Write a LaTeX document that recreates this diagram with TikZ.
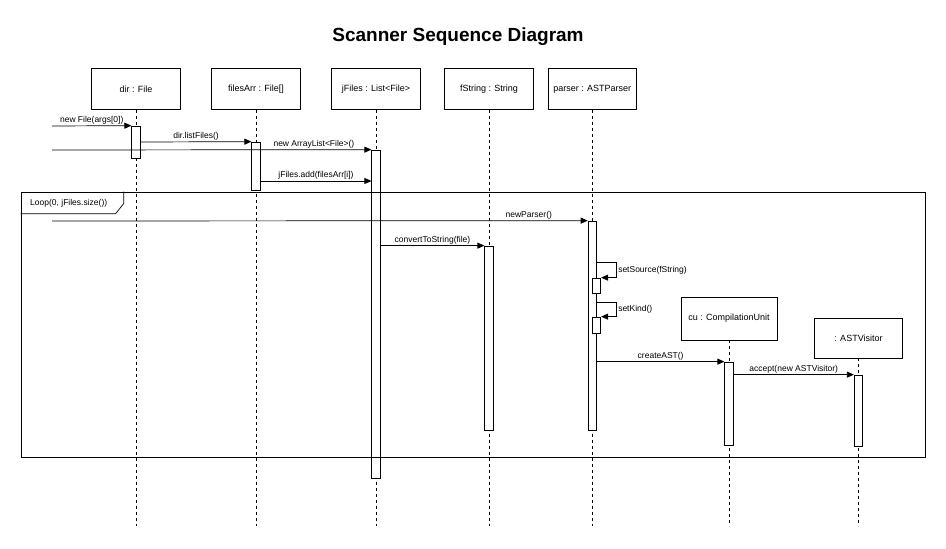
\documentclass[tikz,border=0pt]{standalone}
\usepackage{fontspec}
\setmainfont{Liberation Sans}
\usetikzlibrary{positioning,arrows.meta}

\begin{document}
\begin{tikzpicture}[x=1pt,y=-1pt,
    obj/.style={draw,line width=0.7pt,minimum width=88.5pt,minimum height=41pt,inner sep=1pt,outer sep=0pt,font=\fontsize{9}{11}\selectfont},
    act/.style={draw,fill=white,line width=0.7pt,minimum width=8.5pt,inner sep=0pt},
    life/.style={line width=0.6pt,dash pattern=on 3pt off 3pt},
    msg/.style={line width=0.7pt,-{Triangle[length=7pt,width=6pt]}},
    lbl/.style={above,inner sep=1.5pt,font=\fontsize{8.5}{10}\selectfont}] %
    \useasboundingbox (0,0) rectangle (946,549);
    \node[font=\bfseries\fontsize{19}{22}\selectfont] (title) at (458,37) {Scanner Sequence Diagram};
    % objects
    \node[obj] (dir) at (136,89) {dir : File} ; %
    \node[obj, right=31.5pt of dir] (filesArr) {filesArr : File[]} ; %
    \node[obj, right=31.5pt of filesArr] (jFiles) {jFiles : List<File>} ; %
    \node[obj, right=24.5pt of jFiles] (fString) {fString : String} ; %
    \node[obj, right=14.8pt of fString] (parser) {parser : ASTParser} ; %
    \node[obj, minimum width=96pt, minimum height=43pt] (cu) at (729,318.5) {cu : CompilationUnit} ; %
    \node[obj, minimum height=40pt] (vis) at (858.5,338) {: ASTVisitor} ; %
    \foreach \n in {dir,filesArr,jFiles,fString,parser,cu,vis}
      \draw[life] (\n.south) -- (\n.south |- 0,526);
    % activations
    \node[act, minimum height=32pt] (dirAct) at (dir.south |- 0,142) {};
    \node[act, minimum height=48pt] (filesAct) at (filesArr.south |- 0,166) {};
    \node[act, minimum height=328pt] (jFilesAct) at (jFiles.south |- 0,314) {};
    \node[act, minimum height=184pt] (fStringAct) at (fString.south |- 0,338) {};
    \node[act, minimum height=209pt] (parserAct) at (parser.south |- 0,325.5) {};
    \node[act, minimum height=15pt] (srcAct) at (596.5,285.5) {};
    \node[act, minimum height=16pt] (kindAct) at (596.5,325) {};
    \node[act, minimum height=83pt] (cuAct) at (cu.south |- 0,403.5) {};
    \node[act, minimum height=71pt] (visAct) at (vis.south |- 0,410.5) {};
    % loop frame
    \node[draw, line width=0.7pt, minimum width=904pt, minimum height=265pt, inner sep=0pt] (loop) at (473,324.5) {};
    \draw[line width=0.7pt] (loop.north west) ++(0,22) -- ++(95,0) -- ++(8,-10) -- ++(0,-12);
    \node[anchor=west, inner sep=0pt, font=\fontsize{8.5}{10}\selectfont] (loopLbl) at (30,203.5) {Loop(0, jFiles.size())};
    % messages
    \coordinate (in1) at (52,126);
    \coordinate (in2) at (52,150);
    \coordinate (in3) at (52,221);
    \draw[msg] (in1) -- node[lbl] (mNewFile) {new File(args[0])} (dirAct.north west);
    \draw[msg] (dirAct.east) -- node[lbl] (mList) {dir.listFiles()} (filesAct.north west);
    \draw[msg] (in2) -- node[lbl, pos=0.82] (mArray) {new ArrayList<File>()} (jFilesAct.north west);
    \draw[msg] (filesAct.east |- 0,181) -- node[lbl] (mAdd) {jFiles.add(filesArr[i])} (jFilesAct.west |- 0,181);
    \draw[msg] (in3) -- node[lbl, pos=0.89] (mParser) {newParser()} (parserAct.north west);
    \draw[msg] (jFilesAct.east |- fStringAct.north) -- node[lbl] (mConvert) {convertToString(file)} (fStringAct.north west);
    \draw[msg] (parserAct.east |- 0,262) -- ++(19,0) |- node[right, pos=0.25, inner sep=2pt, font=\fontsize{8.5}{10}\selectfont] (mSource) {setSource(fString)} (srcAct.north east);
    \draw[msg] (parserAct.east |- 0,302) -- ++(19,0) |- node[right, pos=0.25, inner sep=2pt, font=\fontsize{8.5}{10}\selectfont] (mKind) {setKind()} (kindAct.north east);
    \draw[msg] (parserAct.east |- cuAct.north) -- node[lbl] (mAST) {createAST()} (cuAct.north west);
    \draw[msg] (cuAct.east |- visAct.north) -- node[lbl] (mAccept) {accept(new ASTVisitor)} (visAct.north west);
\end{tikzpicture}
\end{document}
